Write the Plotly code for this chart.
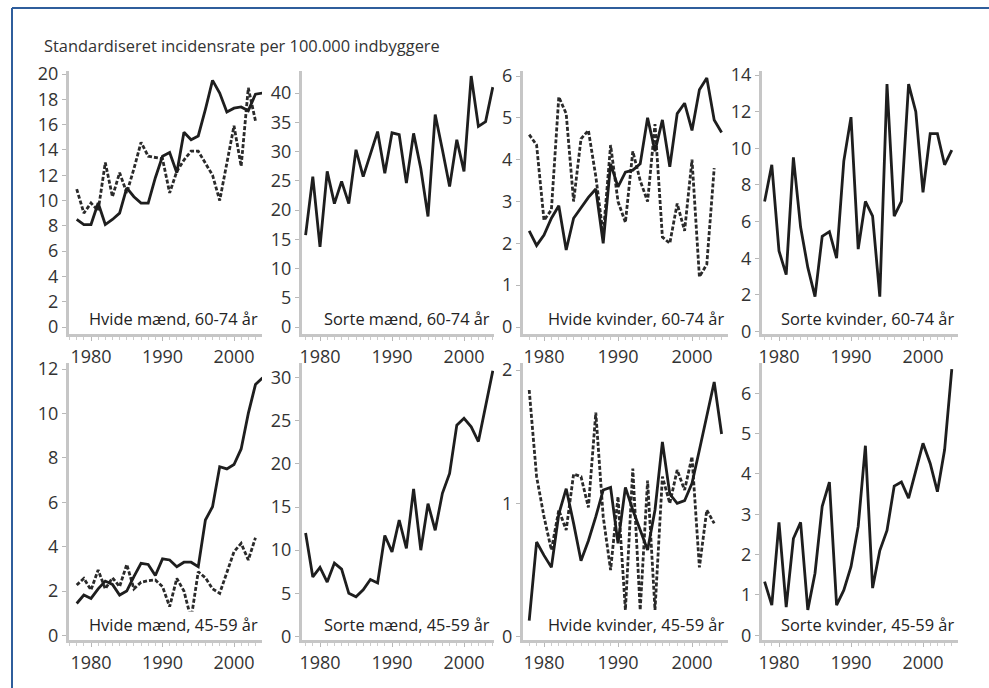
import plotly.graph_objects as go

W, H = 989, 688

years = list(range(1978, 2005))
years_d = list(range(1978, 2004))

title_text = "Standardiseret incidensrate per 100.000 indbyggere"

labels = ["Hvide mænd, 60-74 år", "Sorte mænd, 60-74 år", "Hvide kvinder, 60-74 år", "Sorte kvinder, 60-74 år",
          "Hvide mænd, 45-59 år", "Sorte mænd, 45-59 år", "Hvide kvinder, 45-59 år", "Sorte kvinder, 45-59 år"]

# Top row, 60-74 years
wm6074_solid = [8.5, 8.1, 8.1, 9.8, 8.1, 8.5, 9.0, 11.0, 10.3, 9.8, 9.8, 11.8, 13.5, 13.8, 12.2, 15.4, 14.8,
                15.1, 17.2, 19.5, 18.5, 17.0, 17.3, 17.4, 17.1, 18.4, 18.5]
wm6074_dash = [10.9, 9.0, 9.8, 9.2, 13.0, 10.3, 12.2, 10.6, 12.5, 14.6, 13.5, 13.4, 13.3, 10.6, 12.3, 13.2,
               13.9, 13.9, 13.0, 12.0, 10.0, 13.0, 15.9, 12.7, 18.9, 16.3]
bm6074_solid = [15.7, 25.7, 13.7, 26.6, 21.1, 24.9, 21.1, 30.3, 25.7, 29.4, 33.4, 26.3, 33.2, 32.9, 24.6, 33.1,
                27.1, 18.9, 36.3, 30.3, 24.0, 32.0, 26.6, 42.9, 34.3, 35.1, 41.0]
wf6074_solid = [2.3, 1.95, 2.2, 2.6, 2.9, 1.84, 2.6, 2.85, 3.1, 3.3, 2.0, 3.9, 3.35, 3.7, 3.75, 3.9, 5.0, 4.2,
                4.95, 3.83, 5.1, 5.35, 4.7, 5.67, 5.95, 4.95, 4.65]
wf6074_dash = [4.6, 4.35, 2.55, 2.8, 5.5, 5.1, 3.0, 4.5, 4.7, 3.6, 2.2, 4.35, 3.0, 2.5, 4.2, 3.5, 3.0, 4.85,
               2.15, 2.0, 2.95, 2.3, 4.0, 1.2, 1.5, 3.8]
bf6074_solid = [7.1, 9.1, 4.4, 3.1, 9.5, 5.7, 3.5, 1.9, 5.2, 5.45, 4.0, 9.3, 11.7, 4.5, 7.1, 6.3, 1.9, 13.5,
                6.3, 7.1, 13.5, 12.0, 7.6, 10.8, 10.8, 9.1, 9.9]

# Bottom row, 45-59 years
wm4559_solid = [1.44, 1.82, 1.67, 2.1, 2.45, 2.3, 1.82, 2.0, 2.65, 3.25, 3.2, 2.7, 3.45, 3.4, 3.1, 3.3, 3.3,
                3.1, 5.2, 5.8, 7.6, 7.5, 7.7, 8.4, 10.0, 11.3, 11.6]
wm4559_dash = [2.27, 2.57, 2.05, 2.95, 2.1, 2.6, 2.2, 3.2, 2.1, 2.4, 2.47, 2.5, 2.2, 1.3, 2.57, 2.0, 0.75,
               2.87, 2.6, 2.1, 1.9, 2.8, 3.77, 4.15, 3.4, 4.4]
bm4559_solid = [12.0, 6.9, 8.0, 6.3, 8.5, 7.8, 5.0, 4.6, 5.4, 6.6, 6.2, 11.7, 9.8, 13.5, 10.2, 17.1, 10.0,
                15.4, 12.3, 16.6, 18.9, 24.5, 25.3, 24.3, 22.6, 26.5, 30.8]
wf4559_solid = [0.12, 0.71, 0.61, 0.52, 0.92, 1.11, 0.85, 0.57, 0.72, 0.9, 1.1, 1.12, 0.7, 1.12, 0.95, 0.8,
                0.65, 0.95, 1.46, 1.07, 1.0, 1.02, 1.15, 1.4, 1.65, 1.91, 1.52]
wf4559_dash = [1.85, 1.2, 0.9, 0.65, 0.95, 0.8, 1.22, 1.2, 0.97, 1.68, 0.9, 0.5, 1.05, 0.2, 1.26, 0.2, 1.17,
               0.2, 1.2, 1.0, 1.25, 1.1, 1.35, 0.52, 0.95, 0.85]
bf4559_solid = [1.33, 0.75, 2.8, 0.7, 2.4, 2.8, 0.63, 1.54, 3.2, 3.8, 0.75, 1.12, 1.7, 2.7, 4.7, 1.17, 2.1,
                2.6, 3.7, 3.8, 3.4, 4.1, 4.76, 4.26, 3.56, 4.6, 6.6]

solids = [wm6074_solid, bm6074_solid, wf6074_solid, bf6074_solid,
          wm4559_solid, bm4559_solid, wf4559_solid, bf4559_solid]
dashes = [wm6074_dash, None, wf6074_dash, None, wm4559_dash, None, wf4559_dash, None]

ytick_sets = [list(range(0, 21, 2)), list(range(0, 41, 5)), list(range(0, 7)), list(range(0, 15, 2)),
              list(range(0, 13, 2)), list(range(0, 31, 5)), [0, 1, 2], list(range(0, 7))]
xtick_vals = [1980, 1990, 2000]

# ---- geometry (pixels) ----
cols = [(69, 262, 91, 234), (302, 494, 320, 464), (523, 728, 544, 692), (762, 958, 779, 923)]
rows = [(71, 334), (363, 640)]
yref = [(20, 74, 327), (40, 93, 327), (6, 76, 327), (14, 75, 331.5),
        (12, 369, 635.5), (30, 377.7, 636.4), (2, 370, 636.7), (6, 393.3, 635.3)]

fig = go.Figure()
font_fam = "Open Sans, Noto Sans, sans-serif"
axis_col = "#c6c6c6"

for i in range(8):
    r, c = divmod(i, 4)
    L, R, a, b = cols[c]
    T, B = rows[r]
    n = i + 1
    xa = "x" if n == 1 else f"x{n}"
    ya = "y" if n == 1 else f"y{n}"
    x0 = 1980 + (L - a) * 20 / (b - a)
    x1 = 1980 + (R - a) * 20 / (b - a)
    v1, p1, p0 = yref[i]
    unit = (p0 - p1) / v1
    y0 = -(B - p0) / unit
    y1 = v1 + (p1 - T) / unit

    if dashes[i] is not None:
        fig.add_trace(go.Scatter(x=years_d, y=dashes[i], mode="lines", xaxis=xa, yaxis=ya,
                                 line=dict(color="#2a2a2a", width=2.8, dash="4px,2px"),
                                 showlegend=False, hoverinfo="skip"))
    fig.add_trace(go.Scatter(x=years, y=solids[i], mode="lines", xaxis=xa, yaxis=ya,
                             line=dict(color="#1e1e1e", width=2.8),
                             showlegend=False, hoverinfo="skip"))

    common = dict(showline=True, linecolor=axis_col, linewidth=3, ticks="outside", ticklen=4,
                  tickcolor="#b8b8b8", tickwidth=1, zeroline=False, showgrid=False, automargin=False,
                  tickfont=dict(family=font_fam, size=18, color="#333333"), fixedrange=True)
    xkey = "xaxis" if n == 1 else f"xaxis{n}"
    ykey = "yaxis" if n == 1 else f"yaxis{n}"
    fig.update_layout(**{
        xkey: dict(domain=[L / W, R / W], range=[x0, x1], anchor=ya, tickvals=xtick_vals,
                   minor=dict(dtick=1, tick0=1978, ticks="outside", ticklen=3, tickcolor="#cccccc"),
                   **common),
        ykey: dict(domain=[1 - B / H, 1 - T / H], range=[y0, y1], anchor=xa, tickvals=ytick_sets[i],
                   **common),
    })

    fig.add_annotation(text=labels[i], xref="paper", yref="paper", x=(R - 2) / W, y=1 - (B - 2) / H,
                       xanchor="right", yanchor="bottom", showarrow=False, bgcolor="white", borderpad=1,
                       font=dict(family=font_fam, size=16.4, color="#222222"))

fig.add_annotation(text=title_text, xref="paper", yref="paper", x=42 / W, y=1 - 45 / H,
                   xanchor="left", yanchor="middle", showarrow=False,
                   font=dict(family=font_fam, size=16.4, color="#333333"))

# frame (top and left edges)
fig.add_shape(type="line", xref="paper", yref="paper", x0=12 / W, x1=1.0, y0=1 - 8 / H, y1=1 - 8 / H,
              line=dict(color="#2f5e9c", width=2))
fig.add_shape(type="line", xref="paper", yref="paper", x0=12 / W, x1=12 / W, y0=0, y1=1 - 8 / H,
              line=dict(color="#2f5e9c", width=2))

fig.update_layout(width=W, height=H, margin=dict(l=0, r=0, t=0, b=0, autoexpand=False),
                  paper_bgcolor="white", plot_bgcolor="white", showlegend=False)

fig.write_html("out.html", config={"displayModeBar": False},
               post_script="document.body.style.margin='0';document.body.style.overflow='hidden';")
